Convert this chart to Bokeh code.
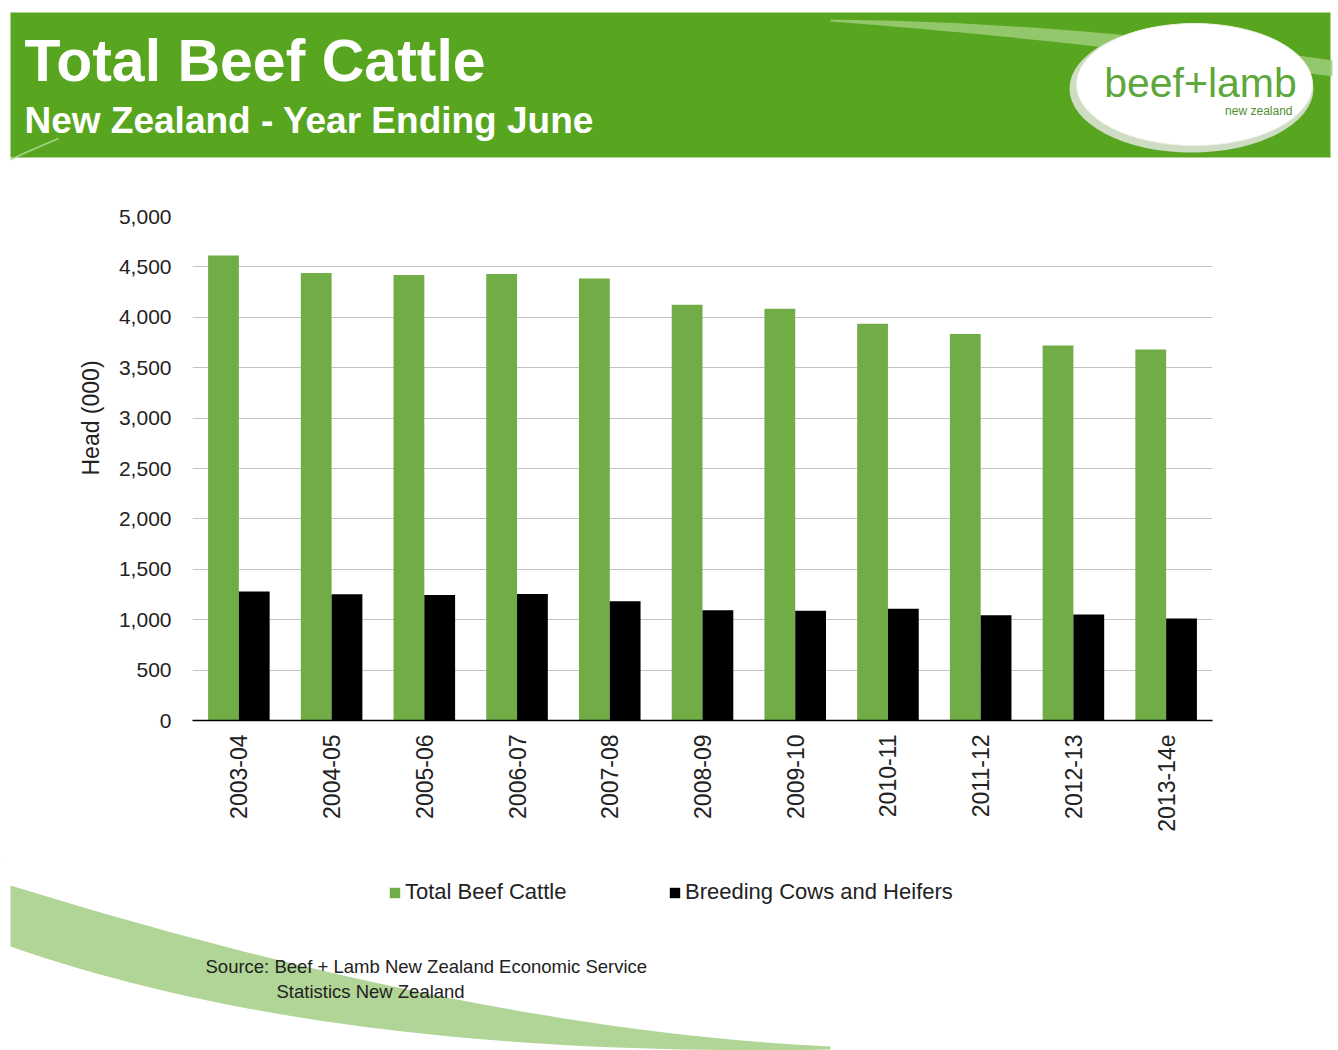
import math
import numpy as np
from bokeh.plotting import figure
from bokeh.models import (Range1d, FactorRange, Label, NumeralTickFormatter, SingleIntervalTicker,
                          ColumnDataSource, Legend, LegendItem, Title)
from bokeh.transform import dodge
from bokeh.embed import file_html
from bokeh.resources import INLINE

# ---------------- data ----------------
years = ["2003-04", "2004-05", "2005-06", "2006-07", "2007-08", "2008-09",
         "2009-10", "2010-11", "2011-12", "2012-13", "2013-14e"]
total_beef_cattle = [4613, 4440, 4420, 4430, 4385, 4125, 4085, 3935, 3835, 3720, 3680]
breeding_cows_heifers = [1280, 1253, 1246, 1256, 1183, 1094, 1088, 1108, 1045, 1052, 1012]

title = "Total Beef Cattle"
subtitle = "New Zealand - Year Ending June"
y_label = "Head (000)"
series_names = ["Total Beef Cattle", "Breeding Cows and Heifers"]
source_lines = ["Source: Beef + Lamb New Zealand  Economic Service", "Statistics New Zealand"]

W = 1338
GREEN_BAND = "#58a61f"
BAR_GREEN = "#70ad47"
TEXT = "#222222"
FONT = "Liberation Sans"


def blank_fig(height, y0, y1):
    f = figure(width=W, height=height, x_range=Range1d(0, W), y_range=Range1d(y1, y0),
               toolbar_location=None, output_backend="svg", x_axis_type=None, y_axis_type=None,
               min_border=0, min_border_left=0, min_border_right=0, min_border_top=0,
               min_border_bottom=0)
    f.grid.visible = False
    f.outline_line_color = None
    f.background_fill_color = "white"
    f.border_fill_color = "white"
    return f


def qbez(p0, p1, p2, n=40):
    t = np.linspace(0, 1, n)
    x = (1 - t) ** 2 * p0[0] + 2 * (1 - t) * t * p1[0] + t ** 2 * p2[0]
    y = (1 - t) ** 2 * p0[1] + 2 * (1 - t) * t * p1[1] + t ** 2 * p2[1]
    return list(x), list(y)


# ---------------- header ----------------
H1 = 165
hdr = blank_fig(H1, 0, H1)
hdr.quad(left=[10], right=[1330], top=[12], bottom=[157], fill_color=GREEN_BAND, line_color=None)
# light swoosh across the header (decoration)
ux, uy = qbez((830, 19), (1080, 22), (1332, 60))
lx, ly = qbez((1332, 76), (1080, 40), (830, 21))
hdr.patch(x=ux + lx, y=uy + ly, fill_color="#9ccd7a", line_color=None, fill_alpha=0.85)
hdr.line(x=[10, 30, 58], y=[159, 150, 138], line_color="#a6d486", line_width=1.5)
# logo
hdr.ellipse(x=[1191], y=[88], width=[244], height=[128], fill_color="#cfdcc4", line_color=None)
hdr.ellipse(x=[1194], y=[84], width=[236], height=[122], fill_color="white", line_color="#eef3e8")
hdr.add_layout(Label(x=1200, y=82, text="beef+lamb", text_font=FONT, text_font_size="41px",
                     text_color="#5ea73a", text_align="center", text_baseline="middle"))
hdr.add_layout(Label(x=1292, y=110, text="new zealand", text_font=FONT, text_font_size="12px",
                     text_color="#4f8f2c", text_align="right", text_baseline="middle"))
hdr.add_layout(Label(x=24, y=60, text=title, text_font=FONT, text_font_size="59px",
                     text_font_style="bold", text_color="white", text_baseline="middle"))
hdr.add_layout(Label(x=24, y=120, text=subtitle, text_font=FONT, text_font_size="37px",
                     text_font_style="bold", text_color="white", text_baseline="middle"))

# ---------------- main chart ----------------
H2 = 695
p = figure(width=W, height=H2, x_range=FactorRange(factors=years, range_padding=0),
           y_range=Range1d(0, 5000), toolbar_location=None, output_backend="svg",
           min_border_left=192, min_border_right=126, min_border_top=51, min_border_bottom=140)
p.outline_line_color = None
p.background_fill_color = "white"
p.border_fill_color = "white"

src = ColumnDataSource(data=dict(year=years, total=total_beef_cattle, breeding=breeding_cows_heifers))
p.vbar(x=dodge("year", -0.166, range=p.x_range), top="total", width=0.332, source=src,
       fill_color=BAR_GREEN, line_color=None)
p.vbar(x=dodge("year", 0.166, range=p.x_range), top="breeding", width=0.332, source=src,
       fill_color="black", line_color=None)

p.xgrid.grid_line_color = None
p.ygrid.grid_line_color = "#c3c3c3"
p.ygrid.grid_line_width = 1.2

p.yaxis.ticker = SingleIntervalTicker(interval=500)
p.yaxis.formatter = NumeralTickFormatter(format="0,0")
p.yaxis.axis_line_color = None
p.yaxis.major_tick_line_color = None
p.yaxis.major_tick_out = 0
p.yaxis.major_tick_in = 0
p.yaxis.minor_tick_line_color = None
p.yaxis.major_label_standoff = 17
p.yaxis.major_label_text_font = FONT
p.yaxis.major_label_text_font_size = "21px"
p.yaxis.major_label_text_color = TEXT

# y-axis title: sits above the frame centre in the reference
ytitle = Title(text=y_label, align="left", offset=245, text_font=FONT, text_font_size="23px",
               text_font_style="normal", text_color=TEXT, standoff=24)
p.add_layout(ytitle, "left")

p.xaxis.axis_line_color = "black"
p.xaxis.axis_line_width = 1.5
p.xaxis.major_tick_line_color = None
p.xaxis.major_tick_out = 0
p.xaxis.major_tick_in = 0
p.xaxis.minor_tick_line_color = None
p.xaxis.major_label_orientation = math.pi / 2
p.xaxis.major_label_standoff = 14
p.xaxis.major_label_text_font = FONT
p.xaxis.major_label_text_font_size = "23px"
p.xaxis.major_label_text_color = TEXT

# ---------------- footer ----------------
H3 = 190
ftr = blank_fig(H3, 860, 1050)
ux, uy = qbez((10, 885), (480, 1030), (830, 1046))
lx, ly = qbez((830, 1049), (330, 1058), (10, 946))
ftr.patch(x=ux + lx, y=uy + ly, fill_color="#b1d596", line_color=None)

offscreen = ColumnDataSource(data=dict(x=[-5000], top=[-5000]))
r1 = ftr.vbar(x="x", top="top", width=1, source=offscreen, fill_color=BAR_GREEN, line_color=None)
r2 = ftr.vbar(x="x", top="top", width=1, source=offscreen, fill_color="black", line_color=None)
legend = Legend(items=[LegendItem(label=series_names[0], renderers=[r1]),
                       LegendItem(label=series_names[1], renderers=[r2])],
                orientation="horizontal", location=(388, 145), padding=0, margin=0, spacing=0,
                glyph_width=13, glyph_height=13, label_standoff=4, label_width=263, label_height=22,
                label_text_font=FONT, label_text_font_size="22px", label_text_color=TEXT,
                border_line_color=None, background_fill_alpha=0)
ftr.add_layout(legend)

ftr.add_layout(Label(x=205, y=966, text=source_lines[0], text_font=FONT, text_font_size="18.5px",
                     text_color=TEXT, text_baseline="middle"))
ftr.add_layout(Label(x=276, y=991, text=source_lines[1], text_font=FONT, text_font_size="18.5px",
                     text_color=TEXT, text_baseline="middle"))

open("out.html", "w").write(file_html([hdr, p, ftr], INLINE))
